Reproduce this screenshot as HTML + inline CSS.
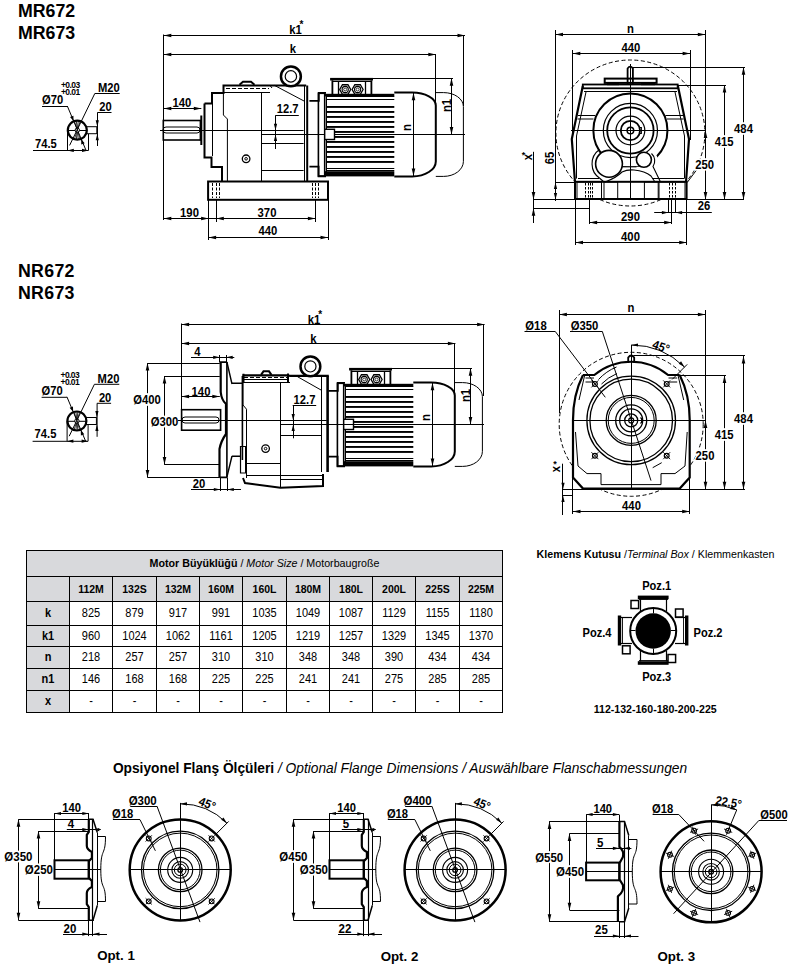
<!DOCTYPE html><html><head><meta charset="utf-8"><style>
html,body{margin:0;padding:0;background:#fff;width:802px;height:976px;overflow:hidden;}
svg{position:absolute;left:0;top:0;}
text{font-family:"Liberation Sans", sans-serif;fill:#000;stroke:none;}
</style></head><body>
<svg width="802" height="976" viewBox="0 0 802 976">
<g stroke="#000" fill="none" stroke-linecap="butt">
<text x="18" y="17" font-size="17.75" font-weight="bold" text-anchor="start">MR672</text>
<text x="18" y="38.5" font-size="17.75" font-weight="bold" text-anchor="start">MR673</text>
<circle cx="77.3" cy="130.2" r="9.5" stroke-width="2.2" fill="none"/>
<line x1="67.8" y1="130.5" x2="86.8" y2="130.5" stroke-width="1"/>
<line x1="74.52" y1="121.64" x2="80.08" y2="138.76" stroke-width="0.8"/>
<line x1="76.36" y1="121.25" x2="78.24" y2="139.15" stroke-width="0.8"/>
<line x1="78.24" y1="121.25" x2="76.36" y2="139.15" stroke-width="0.8"/>
<line x1="80.08" y1="121.64" x2="74.52" y2="138.76" stroke-width="0.8"/>
<circle cx="77.3" cy="130.2" r="2.2" stroke-width="1" fill="#fff"/>
<rect x="86.8" y="126.69999999999999" width="10" height="7" stroke-width="1" fill="none"/>
<text x="61" y="87.5" font-size="8.5" font-weight="bold" text-anchor="start" letter-spacing="-0.6">+0.03</text>
<text x="61" y="94.5" font-size="8.5" font-weight="bold" text-anchor="start" letter-spacing="-0.6">+0.01</text>
<text x="42" y="104.2" font-size="11.2" font-weight="bold" text-anchor="start" transform="matrix(1 0 0 1.1 0 -10.420)">Ø70</text>
<line x1="42" y1="106.5" x2="67.3" y2="106.5" stroke-width="1"/>
<line x1="67.3" y1="106" x2="86" y2="150.3" stroke-width="1"/>
<path d="M73.50,121.00 L70.04,116.97 L73.41,115.69 Z" fill="#000" stroke="none"/>
<path d="M81.20,139.30 L84.66,143.33 L81.29,144.61 Z" fill="#000" stroke="none"/>
<text x="98" y="92.3" font-size="11.2" font-weight="bold" text-anchor="start" transform="matrix(1 0 0 1.1 0 -9.230)">M20</text>
<line x1="94.8" y1="93.5" x2="119.7" y2="93.5" stroke-width="1"/>
<line x1="94.8" y1="93.5" x2="69.6" y2="145.4" stroke-width="1"/>
<text x="99.3" y="111" font-size="11.2" font-weight="bold" text-anchor="start" transform="matrix(1 0 0 1.1 0 -11.100)">20</text>
<line x1="97.3" y1="112.5" x2="111.5" y2="112.5" stroke-width="1"/>
<line x1="97.5" y1="112.7" x2="97.5" y2="146" stroke-width="1"/>
<path d="M97.30,126.70 L95.70,120.20 L98.90,120.20 Z" fill="#000" stroke="none"/>
<path d="M97.30,133.70 L98.90,140.20 L95.70,140.20 Z" fill="#000" stroke="none"/>
<text x="35" y="147.6" font-size="11.2" font-weight="bold" text-anchor="start" transform="matrix(1 0 0 1.1 0 -14.760)">74.5</text>
<line x1="33" y1="150.5" x2="88.5" y2="150.5" stroke-width="1"/>
<line x1="67.5" y1="130" x2="67.5" y2="150.4" stroke-width="1"/>
<line x1="88.5" y1="134" x2="88.5" y2="150.4" stroke-width="1"/>
<path d="M67.30,150.40 L73.80,148.80 L73.80,152.00 Z" fill="#000" stroke="none"/>
<path d="M88.50,150.40 L82.00,152.00 L82.00,148.80 Z" fill="#000" stroke="none"/>
<text x="295.5" y="34.2" font-size="11.3" font-weight="bold" text-anchor="middle" transform="matrix(1 0 0 1.1 0 -3.420)">k1</text>
<text x="301.5" y="27.8" font-size="10" font-weight="bold" text-anchor="middle">*</text>
<line x1="163.8" y1="35.5" x2="465" y2="35.5" stroke-width="1"/>
<path d="M163.80,35.50 L171.30,33.70 L171.30,37.30 Z" fill="#000" stroke="none"/>
<path d="M465.00,35.50 L457.50,37.30 L457.50,33.70 Z" fill="#000" stroke="none"/>
<text x="293" y="53.1" font-size="11.3" font-weight="bold" text-anchor="middle" transform="matrix(1 0 0 1.1 0 -5.310)">k</text>
<line x1="163.8" y1="54.5" x2="435.8" y2="54.5" stroke-width="1"/>
<path d="M163.80,54.50 L171.30,52.70 L171.30,56.30 Z" fill="#000" stroke="none"/>
<path d="M435.80,54.50 L428.30,56.30 L428.30,52.70 Z" fill="#000" stroke="none"/>
<line x1="163.5" y1="34.5" x2="163.5" y2="220" stroke-width="1"/>
<line x1="463.5" y1="35" x2="463.5" y2="106" stroke-width="1"/>
<line x1="435.5" y1="54" x2="435.5" y2="161" stroke-width="1"/>
<text x="182" y="106.6" font-size="11.3" font-weight="bold" text-anchor="middle" transform="matrix(1 0 0 1.1 0 -10.660)">140</text>
<line x1="163.8" y1="108.5" x2="201.3" y2="108.5" stroke-width="1"/>
<path d="M163.80,108.50 L171.30,106.70 L171.30,110.30 Z" fill="#000" stroke="none"/>
<path d="M201.30,108.50 L193.80,110.30 L193.80,106.70 Z" fill="#000" stroke="none"/>
<rect x="163.3" y="120.5" width="37.5" height="19.5" stroke-width="1.6" fill="none"/>
<path d="M166,127 H197 A3,3 0 0 1 197,133 H166 A3,3 0 0 1 166,127 Z" stroke-width="1" fill="none"/>
<line x1="160" y1="130.5" x2="303.6" y2="130.5" stroke-width="1"/>
<line x1="261" y1="134.5" x2="465" y2="134.5" stroke-width="1"/>
<line x1="261" y1="143.5" x2="303.6" y2="143.5" stroke-width="1"/>
<line x1="261" y1="170.5" x2="303.6" y2="170.5" stroke-width="1"/>
<text x="287.6" y="113.5" font-size="11.2" font-weight="bold" text-anchor="middle" transform="matrix(1 0 0 1.1 0 -11.350)">12.7</text>
<line x1="275.5" y1="115.5" x2="298.8" y2="115.5" stroke-width="1"/>
<line x1="275.5" y1="115.3" x2="275.5" y2="149" stroke-width="1"/>
<path d="M275.50,130.30 L273.90,123.80 L277.10,123.80 Z" fill="#000" stroke="none"/>
<path d="M275.50,134.40 L277.10,140.90 L273.90,140.90 Z" fill="#000" stroke="none"/>
<path d="M201.3,115.5 V145 M204.5,103.5 V157.5 H211.5 V167 H222 V182 M204.5,103.5 H212 V93 H223.5 V85.5 H306.2 " stroke-width="2" fill="none"/>
<path d="M200.8,120 V140.5" stroke-width="2.4" fill="none"/>
<line x1="212.5" y1="104" x2="212.5" y2="156" stroke-width="1"/>
<path d="M223.4,93 V115 L227.4,119 V182" stroke-width="1" fill="none"/>
<line x1="223.4" y1="92.5" x2="270" y2="92.5" stroke-width="1"/>
<path d="M224,85.5 H270 L272,88" stroke-width="1" fill="none"/>
<path d="M239.5,84.8 L243,81.8 H251 L254.5,84.8" stroke-width="2" fill="none"/>
<line x1="226" y1="88.5" x2="269" y2="88.5" stroke-width="1" stroke-dasharray="4,2"/>
<line x1="261.5" y1="92" x2="261.5" y2="182" stroke-width="1"/>
<path d="M274.5,85.4 L304,101" stroke-width="1" fill="none"/>
<circle cx="290.9" cy="76.4" r="9.95" stroke-width="2.5" fill="#fff"/>
<circle cx="290.9" cy="76.4" r="5.7" stroke-width="1.2" fill="none"/>
<line x1="304.5" y1="85.5" x2="304.5" y2="182" stroke-width="1"/>
<line x1="307.2" y1="85.5" x2="307.2" y2="182" stroke-width="2"/>
<rect x="208.1" y="181.5" width="119.9" height="18.3" stroke-width="2" fill="none"/>
<line x1="212.5" y1="183" x2="212.5" y2="198" stroke-width="1" stroke-dasharray="3,1.5"/>
<line x1="216.5" y1="183" x2="216.5" y2="198" stroke-width="1" stroke-dasharray="3,1.5"/>
<line x1="219.5" y1="183" x2="219.5" y2="198" stroke-width="1" stroke-dasharray="3,1.5"/>
<line x1="312.5" y1="183" x2="312.5" y2="198" stroke-width="1" stroke-dasharray="3,1.5"/>
<line x1="315.5" y1="183" x2="315.5" y2="198" stroke-width="1" stroke-dasharray="3,1.5"/>
<line x1="318.5" y1="183" x2="318.5" y2="198" stroke-width="1" stroke-dasharray="3,1.5"/>
<circle cx="246.1" cy="158.8" r="3.8" stroke-width="1.3" fill="none"/>
<circle cx="246.1" cy="158.8" r="1.3" stroke-width="1" fill="none"/>
<line x1="208.5" y1="200" x2="208.5" y2="240" stroke-width="1"/>
<line x1="216.5" y1="200" x2="216.5" y2="222" stroke-width="1"/>
<line x1="315.5" y1="200" x2="315.5" y2="222" stroke-width="1"/>
<line x1="328.5" y1="200" x2="328.5" y2="240" stroke-width="1"/>
<text x="189.5" y="216.8" font-size="11.3" font-weight="bold" text-anchor="middle" transform="matrix(1 0 0 1.1 0 -21.680)">190</text>
<line x1="163.8" y1="218.5" x2="208.6" y2="218.5" stroke-width="1"/>
<path d="M163.80,218.50 L171.30,216.70 L171.30,220.30 Z" fill="#000" stroke="none"/>
<path d="M208.60,218.50 L201.10,220.30 L201.10,216.70 Z" fill="#000" stroke="none"/>
<text x="267" y="216.8" font-size="11.3" font-weight="bold" text-anchor="middle" transform="matrix(1 0 0 1.1 0 -21.680)">370</text>
<line x1="216.3" y1="218.5" x2="315.4" y2="218.5" stroke-width="1"/>
<path d="M216.30,218.50 L223.80,216.70 L223.80,220.30 Z" fill="#000" stroke="none"/>
<path d="M315.40,218.50 L307.90,220.30 L307.90,216.70 Z" fill="#000" stroke="none"/>
<line x1="208.6" y1="218.5" x2="216.3" y2="218.5" stroke-width="1"/>
<text x="268" y="235.2" font-size="11.3" font-weight="bold" text-anchor="middle" transform="matrix(1 0 0 1.1 0 -23.520)">440</text>
<line x1="208.6" y1="237.5" x2="328" y2="237.5" stroke-width="1"/>
<path d="M208.60,237.50 L216.10,235.70 L216.10,239.30 Z" fill="#000" stroke="none"/>
<path d="M328.00,237.50 L320.50,239.30 L320.50,235.70 Z" fill="#000" stroke="none"/>
<g>
<rect x="318.4" y="93.3" width="6.3" height="82.7" stroke-width="1.6" fill="none"/>
<line x1="326.5" y1="96" x2="326.5" y2="172" stroke-width="1"/>
<path d="M309.4,100.9 H318.8 V92.9 H326" stroke-width="1.8" fill="none"/>
<path d="M309.4,166.7 H318.6 V176.3 H326" stroke-width="1.8" fill="none"/>
<rect x="324.7" y="93.8" width="69.6" height="2.6" fill="#000" stroke="none"/>
<rect x="324.7" y="171.2" width="69.6" height="5.2" fill="#000" stroke="none"/>
<line x1="326.7" y1="96.5" x2="394.3" y2="96.5" stroke-width="1"/>
<line x1="326.7" y1="99.5" x2="394.3" y2="99.5" stroke-width="1"/>
<line x1="326.7" y1="168.5" x2="394.3" y2="168.5" stroke-width="1"/>
<line x1="326.7" y1="170.5" x2="394.3" y2="170.5" stroke-width="1"/>
<rect x="326.7" y="106.00" width="67.6" height="1.9" fill="#000" stroke="none"/>
<rect x="326.7" y="111.00" width="67.6" height="1.9" fill="#000" stroke="none"/>
<rect x="326.7" y="116.00" width="67.6" height="1.9" fill="#000" stroke="none"/>
<rect x="326.7" y="121.00" width="67.6" height="1.9" fill="#000" stroke="none"/>
<rect x="326.7" y="126.00" width="67.6" height="1.9" fill="#000" stroke="none"/>
<rect x="326.7" y="131.00" width="67.6" height="1.9" fill="#000" stroke="none"/>
<rect x="326.7" y="136.00" width="67.6" height="1.9" fill="#000" stroke="none"/>
<rect x="326.7" y="141.00" width="67.6" height="1.9" fill="#000" stroke="none"/>
<rect x="326.7" y="146.00" width="67.6" height="1.9" fill="#000" stroke="none"/>
<rect x="326.7" y="151.00" width="67.6" height="1.9" fill="#000" stroke="none"/>
<rect x="326.7" y="156.00" width="67.6" height="1.9" fill="#000" stroke="none"/>
<rect x="326.7" y="161.00" width="67.6" height="1.9" fill="#000" stroke="none"/>
<rect x="324.7" y="129.3" width="9.8" height="10.2" stroke-width="1.4" fill="#fff"/>
<rect x="330.1" y="77.9" width="42.9" height="2.6" fill="#000" stroke="none"/>
<rect x="331.5" y="80.3" width="1.8" height="15" fill="#000" stroke="none"/>
<rect x="370.5" y="80.3" width="1.8" height="15" fill="#000" stroke="none"/>
<line x1="332" y1="81.5" x2="371" y2="81.5" stroke-width="1"/>
<line x1="338.5" y1="82" x2="338.5" y2="95" stroke-width="1.3"/>
<line x1="365.5" y1="82" x2="365.5" y2="95" stroke-width="1.3"/>
<polygon points="350.70,89.50 347.95,94.26 342.45,94.26 339.70,89.50 342.45,84.74 347.95,84.74" stroke-width="1.3" fill="#fff"/>
<circle cx="345.2" cy="89.5" r="3.1" stroke-width="1.1" fill="none"/>
<circle cx="345.2" cy="89.5" r="1.5" stroke-width="0.8" fill="none"/>
<polygon points="363.10,89.50 360.35,94.26 354.85,94.26 352.10,89.50 354.85,84.74 360.35,84.74" stroke-width="1.3" fill="#fff"/>
<circle cx="357.6" cy="89.5" r="3.1" stroke-width="1.1" fill="none"/>
<circle cx="357.6" cy="89.5" r="1.5" stroke-width="0.8" fill="none"/>
<line x1="373" y1="78.5" x2="453" y2="78.5" stroke-width="1"/>
<line x1="451.5" y1="78.3" x2="451.5" y2="134.4" stroke-width="1"/>
<path d="M451.50,78.30 L453.30,85.80 L449.70,85.80 Z" fill="#000" stroke="none"/>
<path d="M451.50,134.40 L449.70,126.90 L453.30,126.90 Z" fill="#000" stroke="none"/>
<g transform="rotate(-90 450.6 105.5)"><text x="450.6" y="105.5" font-size="11.3" font-weight="bold" text-anchor="middle" transform="matrix(1 0 0 1.1 0 -10.550)">n1</text></g>
<path d="M394.3,92.6 H412.2 A23.6,13 0 0 1 435.8,105.6 V161.4 A23.6,15 0 0 1 412.2,176.4 H394.3" stroke-width="2" fill="none"/>
<path d="M435.8,92.6 H443.6 A19.8,14 0 0 1 463.4,106.6 V161.4 A19.8,15 0 0 1 443.6,176.4 H435.8" stroke-width="1" fill="none"/>
<line x1="413.5" y1="92.8" x2="413.5" y2="176" stroke-width="1"/>
<path d="M413.50,92.80 L415.30,100.30 L411.70,100.30 Z" fill="#000" stroke="none"/>
<path d="M413.50,176.00 L411.70,168.50 L415.30,168.50 Z" fill="#000" stroke="none"/>
<g transform="rotate(-90 410.8 127.6)"><text x="410.8" y="127.6" font-size="11.3" font-weight="bold" text-anchor="middle" transform="matrix(1 0 0 1.1 0 -12.760)">n</text></g>
</g>
<text x="630.5" y="33" font-size="11.3" font-weight="bold" text-anchor="middle" transform="matrix(1 0 0 1.1 0 -3.300)">n</text>
<line x1="555.5" y1="34.5" x2="705.3" y2="34.5" stroke-width="1"/>
<path d="M555.50,34.50 L563.00,32.70 L563.00,36.30 Z" fill="#000" stroke="none"/>
<path d="M705.30,34.50 L697.80,36.30 L697.80,32.70 Z" fill="#000" stroke="none"/>
<line x1="555.5" y1="30" x2="555.5" y2="199.4" stroke-width="1"/>
<line x1="705.5" y1="30" x2="705.5" y2="199.4" stroke-width="1"/>
<text x="631" y="52" font-size="11.3" font-weight="bold" text-anchor="middle" transform="matrix(1 0 0 1.1 0 -5.200)">440</text>
<line x1="572.8" y1="53.5" x2="690.1" y2="53.5" stroke-width="1"/>
<path d="M572.80,53.50 L580.30,51.70 L580.30,55.30 Z" fill="#000" stroke="none"/>
<path d="M690.10,53.50 L682.60,55.30 L682.60,51.70 Z" fill="#000" stroke="none"/>
<line x1="572.5" y1="50" x2="572.5" y2="140" stroke-width="1"/>
<line x1="690.5" y1="50" x2="690.5" y2="140" stroke-width="1"/>
<ellipse cx="630.4" cy="133" rx="74.5" ry="73" stroke-width="1" stroke-dasharray="4,2.5"/>
<path d="M582.8,84.3 H677.7 L689,139 L686.6,199.4 H575 L571.8,139 Z" fill="#fff" stroke="none"/>
<path d="M582.8,86 L571.8,139 L575,182" stroke-width="2.2" fill="none"/>
<path d="M677.9,86 L689,139 L686,182" stroke-width="2.2" fill="none"/>
<path d="M586,92 L576.5,136 V178.6" stroke-width="1" fill="none"/>
<path d="M675,92 L684.5,136 V178.6" stroke-width="1" fill="none"/>
<rect x="582.8" y="84.5" width="94.9" height="3.8" stroke-width="1.8" fill="none"/>
<line x1="584" y1="91.5" x2="677" y2="91.5" stroke-width="1"/>
<rect x="604.7" y="78.6" width="51.9" height="4.3" stroke-width="2" fill="none"/>
<rect x="607" y="83" width="12" height="2.2" fill="#000" stroke="none"/>
<rect x="641" y="83" width="14" height="2.2" fill="#000" stroke="none"/>
<path d="M627.6,84.3 V68.5 Q630.2,64.8 632.9,68.5 V84.3" stroke-width="1.8" fill="none"/>
<line x1="630.5" y1="69" x2="630.5" y2="84" stroke-width="1"/>
<line x1="632.6" y1="67.5" x2="745" y2="67.5" stroke-width="1"/>
<line x1="677.7" y1="85.5" x2="726" y2="85.5" stroke-width="1"/>
<path d="M578,115.5 H595 M577.5,119 H593.5 M665.5,115.5 H683 M667,119 H683.5" stroke-width="1.2" fill="none"/>
<circle cx="630.4" cy="130.5" r="37.05" stroke-width="2" fill="none"/>
<circle cx="630.4" cy="130.5" r="27.1" stroke-width="1.2" fill="none"/>
<circle cx="630.4" cy="130.5" r="23.2" stroke-width="1.8" fill="none"/>
<circle cx="630.4" cy="130.5" r="14.4" stroke-width="1.2" fill="none"/>
<circle cx="630.4" cy="130.5" r="9.6" stroke-width="1.8" fill="none"/>
<circle cx="630.4" cy="130.5" r="3.3" stroke-width="1.5" fill="none"/>
<path d="M639.8,127.5 H641.3 V133.5 H639.8" stroke-width="1.2" fill="none"/>
<path d="M596.5,152 A17.5,17.5 0 0 0 599,178 L604,182 H640 L656,182 L652,170 A10,10 0 0 0 652.5,152 L640,166.8 H622 Z" fill="#fff" stroke="none"/>
<circle cx="609" cy="163.8" r="13.4" stroke-width="1.6" fill="#fff"/>
<path d="M599.5,149.5 A17.5,17.5 0 0 0 600,178.5 L604,182" stroke-width="1.1" fill="none"/>
<circle cx="643.9" cy="159.8" r="7.5" stroke-width="1.6" fill="#fff"/>
<path d="M651.5,153.5 A10,10 0 0 1 653,166.5 L660.5,182" stroke-width="1.1" fill="none"/>
<path d="M622.2,166.8 H636.5" stroke-width="1.1" fill="none"/>
<path d="M605,182 Q616,178 622,172 Q627,169.5 634,170 Q645,171 651,176 L655,182" stroke-width="1.1" fill="none"/>
<rect x="575" y="181.8" width="111.6" height="17.2" stroke-width="2" fill="none"/>
<rect x="577" y="182" width="24.5" height="16.5" stroke-width="1" fill="none"/>
<rect x="604" y="182" width="13.7" height="16.5" stroke-width="1" fill="none"/>
<rect x="644.4" y="182" width="13.8" height="16.5" stroke-width="1" fill="none"/>
<rect x="659" y="182" width="26" height="16.5" stroke-width="1" fill="none"/>
<line x1="585.5" y1="183" x2="585.5" y2="198" stroke-width="1" stroke-dasharray="2.5,1.5"/>
<line x1="588.5" y1="183" x2="588.5" y2="198" stroke-width="1" stroke-dasharray="2.5,1.5"/>
<line x1="590.5" y1="183" x2="590.5" y2="198" stroke-width="1" stroke-dasharray="2.5,1.5"/>
<line x1="592.5" y1="183" x2="592.5" y2="198" stroke-width="1" stroke-dasharray="2.5,1.5"/>
<line x1="669.5" y1="183" x2="669.5" y2="198" stroke-width="1" stroke-dasharray="2.5,1.5"/>
<line x1="672.5" y1="183" x2="672.5" y2="198" stroke-width="1" stroke-dasharray="2.5,1.5"/>
<line x1="675.5" y1="183" x2="675.5" y2="198" stroke-width="1" stroke-dasharray="2.5,1.5"/>
<line x1="578" y1="178.5" x2="599" y2="178.5" stroke-width="1"/>
<line x1="652" y1="178.5" x2="684" y2="178.5" stroke-width="1"/>
<line x1="630.5" y1="64" x2="630.5" y2="199" stroke-width="1"/>
<line x1="571" y1="130.5" x2="705" y2="130.5" stroke-width="1"/>
<line x1="533.5" y1="199.5" x2="744" y2="199.5" stroke-width="1"/>
<line x1="533.5" y1="208.5" x2="589.6" y2="208.5" stroke-width="1"/>
<line x1="555.1" y1="182.5" x2="575" y2="182.5" stroke-width="1"/>
<line x1="555.5" y1="182.4" x2="555.5" y2="199.4" stroke-width="1"/>
<path d="M555.50,182.40 L557.10,188.90 L553.90,188.90 Z" fill="#000" stroke="none"/>
<path d="M555.50,199.40 L553.90,192.90 L557.10,192.90 Z" fill="#000" stroke="none"/>
<line x1="555.5" y1="150" x2="555.5" y2="201" stroke-width="1"/>
<line x1="533.5" y1="151.8" x2="533.5" y2="223" stroke-width="1"/>
<path d="M533.50,199.40 L531.70,191.90 L535.30,191.90 Z" fill="#000" stroke="none"/>
<path d="M533.50,208.30 L535.30,215.80 L531.70,215.80 Z" fill="#000" stroke="none"/>
<g transform="rotate(-90 553.7 158)"><text x="553.7" y="158" font-size="11.3" font-weight="bold" text-anchor="middle" transform="matrix(1 0 0 1.1 0 -15.800)">65</text></g>
<g transform="rotate(-90 531.8 157)"><text x="531.8" y="157" font-size="11.3" font-weight="bold" text-anchor="middle" transform="matrix(1 0 0 1.1 0 -15.700)">x</text></g>
<text x="523.5" y="157.5" font-size="9" font-weight="bold" text-anchor="middle">*</text>
<line x1="743.5" y1="67.3" x2="743.5" y2="199.4" stroke-width="1"/>
<path d="M743.50,67.30 L745.30,74.80 L741.70,74.80 Z" fill="#000" stroke="none"/>
<path d="M743.50,199.40 L741.70,191.90 L745.30,191.90 Z" fill="#000" stroke="none"/>
<text x="743.5" y="133" font-size="11.3" font-weight="bold" text-anchor="middle" style="paint-order:stroke;stroke:#fff;stroke-width:3px" transform="matrix(1 0 0 1.1 0 -13.300)">484</text>
<line x1="724.5" y1="85.1" x2="724.5" y2="199.4" stroke-width="1"/>
<path d="M724.50,85.10 L726.30,92.60 L722.70,92.60 Z" fill="#000" stroke="none"/>
<path d="M724.50,199.40 L722.70,191.90 L726.30,191.90 Z" fill="#000" stroke="none"/>
<text x="724.2" y="146" font-size="11.3" font-weight="bold" text-anchor="middle" style="paint-order:stroke;stroke:#fff;stroke-width:3px" transform="matrix(1 0 0 1.1 0 -14.600)">415</text>
<line x1="705.5" y1="130.5" x2="705.5" y2="199.4" stroke-width="1"/>
<path d="M705.50,130.50 L707.30,138.00 L703.70,138.00 Z" fill="#000" stroke="none"/>
<path d="M705.50,199.40 L703.70,191.90 L707.30,191.90 Z" fill="#000" stroke="none"/>
<text x="704.7" y="169.2" font-size="11.3" font-weight="bold" text-anchor="middle" style="paint-order:stroke;stroke:#fff;stroke-width:3px" transform="matrix(1 0 0 1.1 0 -16.920)">250</text>
<line x1="696" y1="170.7" x2="687.1" y2="182.6" stroke-width="1"/>
<line x1="668.5" y1="199" x2="668.5" y2="212.6" stroke-width="1"/>
<line x1="675.5" y1="199" x2="675.5" y2="212.6" stroke-width="1"/>
<line x1="654.2" y1="212.5" x2="711.8" y2="212.5" stroke-width="1"/>
<path d="M668.40,212.60 L661.90,214.20 L661.90,211.00 Z" fill="#000" stroke="none"/>
<path d="M675.60,212.60 L682.10,211.00 L682.10,214.20 Z" fill="#000" stroke="none"/>
<text x="704" y="210.3" font-size="11.3" font-weight="bold" text-anchor="middle" transform="matrix(1 0 0 1.1 0 -21.030)">26</text>
<line x1="589.5" y1="199" x2="589.5" y2="224" stroke-width="1"/>
<line x1="671.5" y1="199" x2="671.5" y2="224" stroke-width="1"/>
<text x="630.5" y="220.6" font-size="11.3" font-weight="bold" text-anchor="middle" transform="matrix(1 0 0 1.1 0 -22.060)">290</text>
<line x1="589.6" y1="222.5" x2="671.7" y2="222.5" stroke-width="1"/>
<path d="M589.60,222.50 L597.10,220.70 L597.10,224.30 Z" fill="#000" stroke="none"/>
<path d="M671.70,222.50 L664.20,224.30 L664.20,220.70 Z" fill="#000" stroke="none"/>
<line x1="575.5" y1="199" x2="575.5" y2="245" stroke-width="1"/>
<line x1="686.5" y1="199" x2="686.5" y2="245" stroke-width="1"/>
<text x="630.5" y="241.3" font-size="11.3" font-weight="bold" text-anchor="middle" transform="matrix(1 0 0 1.1 0 -24.130)">400</text>
<line x1="575.5" y1="242.5" x2="686.7" y2="242.5" stroke-width="1"/>
<path d="M575.50,242.50 L583.00,240.70 L583.00,244.30 Z" fill="#000" stroke="none"/>
<path d="M686.70,242.50 L679.20,244.30 L679.20,240.70 Z" fill="#000" stroke="none"/>
<text x="18" y="277" font-size="17.75" font-weight="bold" text-anchor="start" letter-spacing="0.3">NR672</text>
<text x="18" y="299" font-size="17.75" font-weight="bold" text-anchor="start" letter-spacing="0.3">NR673</text>
<g transform="translate(-0.4,290.8)">
<circle cx="77.3" cy="130.2" r="9.5" stroke-width="2.2" fill="none"/>
<line x1="67.8" y1="130.5" x2="86.8" y2="130.5" stroke-width="1"/>
<line x1="74.52" y1="121.64" x2="80.08" y2="138.76" stroke-width="0.8"/>
<line x1="76.36" y1="121.25" x2="78.24" y2="139.15" stroke-width="0.8"/>
<line x1="78.24" y1="121.25" x2="76.36" y2="139.15" stroke-width="0.8"/>
<line x1="80.08" y1="121.64" x2="74.52" y2="138.76" stroke-width="0.8"/>
<circle cx="77.3" cy="130.2" r="2.2" stroke-width="1" fill="#fff"/>
<rect x="86.8" y="126.69999999999999" width="10" height="7" stroke-width="1" fill="none"/>
<text x="61" y="87.5" font-size="8.5" font-weight="bold" text-anchor="start" letter-spacing="-0.6">+0.03</text>
<text x="61" y="94.5" font-size="8.5" font-weight="bold" text-anchor="start" letter-spacing="-0.6">+0.01</text>
<text x="42" y="104.2" font-size="11.2" font-weight="bold" text-anchor="start" transform="matrix(1 0 0 1.1 0 -10.420)">Ø70</text>
<line x1="42" y1="106.5" x2="67.3" y2="106.5" stroke-width="1"/>
<line x1="67.3" y1="106" x2="86" y2="150.3" stroke-width="1"/>
<path d="M73.50,121.00 L70.04,116.97 L73.41,115.69 Z" fill="#000" stroke="none"/>
<path d="M81.20,139.30 L84.66,143.33 L81.29,144.61 Z" fill="#000" stroke="none"/>
<text x="98" y="92.3" font-size="11.2" font-weight="bold" text-anchor="start" transform="matrix(1 0 0 1.1 0 -9.230)">M20</text>
<line x1="94.8" y1="93.5" x2="119.7" y2="93.5" stroke-width="1"/>
<line x1="94.8" y1="93.5" x2="69.6" y2="145.4" stroke-width="1"/>
<text x="99.3" y="111" font-size="11.2" font-weight="bold" text-anchor="start" transform="matrix(1 0 0 1.1 0 -11.100)">20</text>
<line x1="97.3" y1="112.5" x2="111.5" y2="112.5" stroke-width="1"/>
<line x1="97.5" y1="112.7" x2="97.5" y2="146" stroke-width="1"/>
<path d="M97.30,126.70 L95.70,120.20 L98.90,120.20 Z" fill="#000" stroke="none"/>
<path d="M97.30,133.70 L98.90,140.20 L95.70,140.20 Z" fill="#000" stroke="none"/>
<text x="35" y="147.6" font-size="11.2" font-weight="bold" text-anchor="start" transform="matrix(1 0 0 1.1 0 -14.760)">74.5</text>
<line x1="33" y1="150.5" x2="88.5" y2="150.5" stroke-width="1"/>
<line x1="67.5" y1="130" x2="67.5" y2="150.4" stroke-width="1"/>
<line x1="88.5" y1="134" x2="88.5" y2="150.4" stroke-width="1"/>
<path d="M67.30,150.40 L73.80,148.80 L73.80,152.00 Z" fill="#000" stroke="none"/>
<path d="M88.50,150.40 L82.00,152.00 L82.00,148.80 Z" fill="#000" stroke="none"/>
</g>
<g transform="translate(19,290)">
<rect x="318.4" y="93.3" width="6.3" height="82.7" stroke-width="1.6" fill="none"/>
<line x1="326.5" y1="96" x2="326.5" y2="172" stroke-width="1"/>
<path d="M309.4,100.9 H318.8 V92.9 H326" stroke-width="1.8" fill="none"/>
<path d="M309.4,166.7 H318.6 V176.3 H326" stroke-width="1.8" fill="none"/>
<rect x="324.7" y="93.8" width="69.6" height="2.6" fill="#000" stroke="none"/>
<rect x="324.7" y="171.2" width="69.6" height="5.2" fill="#000" stroke="none"/>
<line x1="326.7" y1="96.5" x2="394.3" y2="96.5" stroke-width="1"/>
<line x1="326.7" y1="99.5" x2="394.3" y2="99.5" stroke-width="1"/>
<line x1="326.7" y1="168.5" x2="394.3" y2="168.5" stroke-width="1"/>
<line x1="326.7" y1="170.5" x2="394.3" y2="170.5" stroke-width="1"/>
<rect x="326.7" y="106.00" width="67.6" height="1.9" fill="#000" stroke="none"/>
<rect x="326.7" y="111.00" width="67.6" height="1.9" fill="#000" stroke="none"/>
<rect x="326.7" y="116.00" width="67.6" height="1.9" fill="#000" stroke="none"/>
<rect x="326.7" y="121.00" width="67.6" height="1.9" fill="#000" stroke="none"/>
<rect x="326.7" y="126.00" width="67.6" height="1.9" fill="#000" stroke="none"/>
<rect x="326.7" y="131.00" width="67.6" height="1.9" fill="#000" stroke="none"/>
<rect x="326.7" y="136.00" width="67.6" height="1.9" fill="#000" stroke="none"/>
<rect x="326.7" y="141.00" width="67.6" height="1.9" fill="#000" stroke="none"/>
<rect x="326.7" y="146.00" width="67.6" height="1.9" fill="#000" stroke="none"/>
<rect x="326.7" y="151.00" width="67.6" height="1.9" fill="#000" stroke="none"/>
<rect x="326.7" y="156.00" width="67.6" height="1.9" fill="#000" stroke="none"/>
<rect x="326.7" y="161.00" width="67.6" height="1.9" fill="#000" stroke="none"/>
<rect x="324.7" y="129.3" width="9.8" height="10.2" stroke-width="1.4" fill="#fff"/>
<rect x="330.1" y="77.9" width="42.9" height="2.6" fill="#000" stroke="none"/>
<rect x="331.5" y="80.3" width="1.8" height="15" fill="#000" stroke="none"/>
<rect x="370.5" y="80.3" width="1.8" height="15" fill="#000" stroke="none"/>
<line x1="332" y1="81.5" x2="371" y2="81.5" stroke-width="1"/>
<line x1="338.5" y1="82" x2="338.5" y2="95" stroke-width="1.3"/>
<line x1="365.5" y1="82" x2="365.5" y2="95" stroke-width="1.3"/>
<polygon points="350.70,89.50 347.95,94.26 342.45,94.26 339.70,89.50 342.45,84.74 347.95,84.74" stroke-width="1.3" fill="#fff"/>
<circle cx="345.2" cy="89.5" r="3.1" stroke-width="1.1" fill="none"/>
<circle cx="345.2" cy="89.5" r="1.5" stroke-width="0.8" fill="none"/>
<polygon points="363.10,89.50 360.35,94.26 354.85,94.26 352.10,89.50 354.85,84.74 360.35,84.74" stroke-width="1.3" fill="#fff"/>
<circle cx="357.6" cy="89.5" r="3.1" stroke-width="1.1" fill="none"/>
<circle cx="357.6" cy="89.5" r="1.5" stroke-width="0.8" fill="none"/>
<line x1="373" y1="78.5" x2="453" y2="78.5" stroke-width="1"/>
<line x1="451.5" y1="78.3" x2="451.5" y2="134.4" stroke-width="1"/>
<path d="M451.50,78.30 L453.30,85.80 L449.70,85.80 Z" fill="#000" stroke="none"/>
<path d="M451.50,134.40 L449.70,126.90 L453.30,126.90 Z" fill="#000" stroke="none"/>
<g transform="rotate(-90 450.6 105.5)"><text x="450.6" y="105.5" font-size="11.3" font-weight="bold" text-anchor="middle" transform="matrix(1 0 0 1.1 0 -10.550)">n1</text></g>
<path d="M394.3,92.6 H412.2 A23.6,13 0 0 1 435.8,105.6 V161.4 A23.6,15 0 0 1 412.2,176.4 H394.3" stroke-width="2" fill="none"/>
<path d="M435.8,92.6 H443.6 A19.8,14 0 0 1 463.4,106.6 V161.4 A19.8,15 0 0 1 443.6,176.4 H435.8" stroke-width="1" fill="none"/>
<line x1="413.5" y1="92.8" x2="413.5" y2="176" stroke-width="1"/>
<path d="M413.50,92.80 L415.30,100.30 L411.70,100.30 Z" fill="#000" stroke="none"/>
<path d="M413.50,176.00 L411.70,168.50 L415.30,168.50 Z" fill="#000" stroke="none"/>
<g transform="rotate(-90 410.8 127.6)"><text x="410.8" y="127.6" font-size="11.3" font-weight="bold" text-anchor="middle" transform="matrix(1 0 0 1.1 0 -12.760)">n</text></g>
</g>
<text x="314" y="323.6" font-size="11.3" font-weight="bold" text-anchor="middle" transform="matrix(1 0 0 1.1 0 -32.360)">k1</text>
<text x="320.2" y="318.2" font-size="10" font-weight="bold" text-anchor="middle">*</text>
<line x1="181.6" y1="324.5" x2="484.6" y2="324.5" stroke-width="1"/>
<path d="M181.60,324.50 L189.10,322.70 L189.10,326.30 Z" fill="#000" stroke="none"/>
<path d="M484.60,324.50 L477.10,326.30 L477.10,322.70 Z" fill="#000" stroke="none"/>
<text x="313.3" y="343" font-size="11.3" font-weight="bold" text-anchor="middle" transform="matrix(1 0 0 1.1 0 -34.300)">k</text>
<line x1="181.6" y1="343.5" x2="455.4" y2="343.5" stroke-width="1"/>
<path d="M181.60,343.50 L189.10,341.70 L189.10,345.30 Z" fill="#000" stroke="none"/>
<path d="M455.40,343.50 L447.90,345.30 L447.90,341.70 Z" fill="#000" stroke="none"/>
<line x1="181.5" y1="323.5" x2="181.5" y2="430" stroke-width="1"/>
<line x1="483.5" y1="324" x2="483.5" y2="396" stroke-width="1"/>
<line x1="454.5" y1="344" x2="454.5" y2="451" stroke-width="1"/>
<text x="197.5" y="356" font-size="11.3" font-weight="bold" text-anchor="middle" transform="matrix(1 0 0 1.1 0 -35.600)">4</text>
<line x1="191" y1="357.5" x2="234.3" y2="357.5" stroke-width="1"/>
<path d="M219.70,357.30 L213.20,358.90 L213.20,355.70 Z" fill="#000" stroke="none"/>
<path d="M226.20,357.30 L232.70,355.70 L232.70,358.90 Z" fill="#000" stroke="none"/>
<line x1="219.5" y1="355" x2="219.5" y2="362" stroke-width="1"/>
<line x1="226.5" y1="355" x2="226.5" y2="362" stroke-width="1"/>
<line x1="147.5" y1="363.5" x2="219.8" y2="363.5" stroke-width="1"/>
<line x1="147.5" y1="477.5" x2="219.8" y2="477.5" stroke-width="1"/>
<line x1="147.5" y1="363.1" x2="147.5" y2="477.6" stroke-width="1"/>
<path d="M147.50,363.10 L149.30,370.60 L145.70,370.60 Z" fill="#000" stroke="none"/>
<path d="M147.50,477.60 L145.70,470.10 L149.30,470.10 Z" fill="#000" stroke="none"/>
<text x="147" y="404.5" font-size="11.3" font-weight="bold" text-anchor="middle" style="paint-order:stroke;stroke:#fff;stroke-width:3px" transform="matrix(1 0 0 1.1 0 -40.450)">Ø400</text>
<line x1="164.2" y1="376.5" x2="219.8" y2="376.5" stroke-width="1"/>
<line x1="164.2" y1="464.5" x2="219.8" y2="464.5" stroke-width="1"/>
<line x1="164.5" y1="376" x2="164.5" y2="464.6" stroke-width="1"/>
<path d="M164.50,376.00 L166.30,383.50 L162.70,383.50 Z" fill="#000" stroke="none"/>
<path d="M164.50,464.60 L162.70,457.10 L166.30,457.10 Z" fill="#000" stroke="none"/>
<text x="164.5" y="426" font-size="11.3" font-weight="bold" text-anchor="middle" style="paint-order:stroke;stroke:#fff;stroke-width:3px" transform="matrix(1 0 0 1.1 0 -42.600)">Ø300</text>
<text x="201" y="396" font-size="11.3" font-weight="bold" text-anchor="middle" transform="matrix(1 0 0 1.1 0 -39.600)">140</text>
<line x1="181.6" y1="396.5" x2="219.8" y2="396.5" stroke-width="1"/>
<path d="M181.60,396.50 L189.10,394.70 L189.10,398.30 Z" fill="#000" stroke="none"/>
<path d="M219.80,396.50 L212.30,398.30 L212.30,394.70 Z" fill="#000" stroke="none"/>
<rect x="181.6" y="409.7" width="39" height="20.5" stroke-width="1.6" fill="none"/>
<path d="M185,417 H216 A3,3 0 0 1 216,423 H185 A3,3 0 0 1 185,417 Z" stroke-width="1" fill="none"/>
<line x1="178" y1="420.5" x2="326.7" y2="420.5" stroke-width="1"/>
<line x1="280.5" y1="424.5" x2="484" y2="424.5" stroke-width="1"/>
<text x="199" y="488" font-size="11.3" font-weight="bold" text-anchor="middle" transform="matrix(1 0 0 1.1 0 -48.800)">20</text>
<line x1="191" y1="489.5" x2="241" y2="489.5" stroke-width="1"/>
<line x1="220.5" y1="478" x2="220.5" y2="491" stroke-width="1"/>
<line x1="227.5" y1="478" x2="227.5" y2="491" stroke-width="1"/>
<path d="M220.30,489.50 L213.80,491.10 L213.80,487.90 Z" fill="#000" stroke="none"/>
<path d="M227.30,489.50 L233.80,487.90 L233.80,491.10 Z" fill="#000" stroke="none"/>
<path d="M220.7,362 V392 Q221.5,400 226,404 V434 Q221,441 219.5,449 V477.5" stroke-width="2.2" fill="none"/>
<path d="M226.9,362 V478" stroke-width="1.6" fill="none"/>
<path d="M219.6,477.4 H227 M219.6,362.2 H227" stroke-width="1.8" fill="none"/>
<path d="M226.9,362 L232,384 M232,456 L226.9,477" stroke-width="1.4" fill="none"/>
<path d="M232,383.2 H242.4 M232,456.2 H241" stroke-width="1.4" fill="none"/>
<line x1="222.5" y1="420.5" x2="222.5" y2="420.5" stroke-width="1"/>
<path d="M242.4,376 V460" stroke-width="1.6" fill="none"/>
<path d="M242.5,375.3 H289.2 M289.2,375.9 H328.8" stroke-width="2.2" fill="none"/>
<line x1="244" y1="377.5" x2="288" y2="377.5" stroke-width="1" stroke-dasharray="4,2"/>
<line x1="244" y1="379.5" x2="288" y2="379.5" stroke-width="1"/>
<path d="M243.5,373.8 V382 M288,373.5 V382" stroke-width="2" fill="none"/>
<line x1="243" y1="382.5" x2="290" y2="382.5" stroke-width="1"/>
<path d="M243,382.4 V405 L246.5,409.2 V478" stroke-width="1" fill="none"/>
<line x1="280.5" y1="382.4" x2="280.5" y2="487.8" stroke-width="1"/>
<path d="M297.5,376.7 L321.9,390.5" stroke-width="1" fill="none"/>
<line x1="321.5" y1="376" x2="321.5" y2="472" stroke-width="1"/>
<line x1="327.6" y1="376" x2="327.6" y2="472" stroke-width="2.6"/>
<circle cx="310.4" cy="366.4" r="9.9" stroke-width="2.5" fill="#fff"/>
<circle cx="310.4" cy="366.4" r="5.6" stroke-width="1.2" fill="none"/>
<path d="M261,374.8 L263.5,371.3 H269 L271.5,374.8" stroke-width="2" fill="none"/>
<line x1="280.5" y1="435.5" x2="322" y2="435.5" stroke-width="1"/>
<line x1="246.5" y1="463.5" x2="280.5" y2="463.5" stroke-width="1"/>
<line x1="246.5" y1="475.5" x2="322" y2="475.5" stroke-width="1"/>
<line x1="280.5" y1="479.5" x2="322" y2="479.5" stroke-width="1"/>
<path d="M243,478 L245,483 L280.5,487.8 L323,486 V474" stroke-width="2" fill="none"/>
<path d="M240.5,446.5 H245.6 V473 H240.5 Z" stroke-width="1.2" fill="none"/>
<circle cx="265.6" cy="448.6" r="3.8" stroke-width="1.3" fill="none"/>
<circle cx="265.6" cy="448.6" r="1.3" stroke-width="1" fill="none"/>
<text x="304.5" y="404.3" font-size="11.2" font-weight="bold" text-anchor="middle" transform="matrix(1 0 0 1.1 0 -40.430)">12.7</text>
<line x1="292.7" y1="405.5" x2="316.2" y2="405.5" stroke-width="1"/>
<line x1="293.5" y1="405.4" x2="293.5" y2="438.3" stroke-width="1"/>
<path d="M293.20,420.50 L291.60,414.00 L294.80,414.00 Z" fill="#000" stroke="none"/>
<path d="M293.20,424.60 L294.80,431.10 L291.60,431.10 Z" fill="#000" stroke="none"/>
<text x="631" y="312.5" font-size="11.3" font-weight="bold" text-anchor="middle" transform="matrix(1 0 0 1.1 0 -31.250)">n</text>
<line x1="559.4" y1="314.5" x2="705.4" y2="314.5" stroke-width="1"/>
<path d="M559.40,314.50 L566.90,312.70 L566.90,316.30 Z" fill="#000" stroke="none"/>
<path d="M705.40,314.50 L697.90,316.30 L697.90,312.70 Z" fill="#000" stroke="none"/>
<line x1="559.5" y1="310" x2="559.5" y2="413" stroke-width="1"/>
<line x1="705.5" y1="310" x2="705.5" y2="489" stroke-width="1"/>
<text x="536" y="330" font-size="11.3" font-weight="bold" text-anchor="middle" transform="matrix(1 0 0 1.1 0 -33.000)">Ø18</text>
<line x1="524.5" y1="331.5" x2="555.2" y2="331.5" stroke-width="1"/>
<text x="584.5" y="330" font-size="11.3" font-weight="bold" text-anchor="middle" transform="matrix(1 0 0 1.1 0 -33.000)">Ø350</text>
<line x1="570" y1="331.5" x2="602.3" y2="331.5" stroke-width="1"/>
<ellipse cx="631.2" cy="424.3" rx="72" ry="72" stroke-width="1" stroke-dasharray="4,2.5"/>
<path d="M583,375 H594.3 A58,58 0 0 1 668.1,375 H679.7 Q689.7,395 689.7,420 V477.6 L679.7,488.6 H583 L573,477.6 V420 Q573,395 583,375 Z" fill="#fff" stroke="none"/>
<path d="M583,375 H594.3 A58,58 0 0 1 668.1,375 H679.7 M583,375 Q573,395 573,420 V477.6 L583,488.6 H679.7 L689.7,477.6 V420 Q689.7,395 679.7,375" stroke-width="2.2" fill="none"/>
<path d="M585.5,378 H594 M585.5,382 H594 M677.2,378 H668.5 M677.2,382 H668.5" stroke-width="1" fill="none"/>
<path d="M584.5,376 L579,400 M678.2,376 L683.7,400" stroke-width="1" fill="none"/>
<path d="M598.5,379.5 A50,50 0 0 1 616.5,367 M601.5,384 A47,47 0 0 1 617,373.5" stroke-width="1" fill="none"/>
<path d="M575.5,432 L578,466 L587,473.6 H601 V484.6 H661 V473.6 H675 L685,466 L687.2,432" stroke-width="1" fill="none"/>
<path d="M628.2,363 V357.5 Q631.2,353.5 634.2,357.5 V363" stroke-width="1.8" fill="none"/>
<line x1="555.2" y1="331.4" x2="605.3" y2="397.3" stroke-width="1"/>
<line x1="602.3" y1="331.4" x2="651" y2="480.6" stroke-width="1"/>
<circle cx="631.2" cy="420.4" r="44.3" stroke-width="1.3" fill="none"/>
<circle cx="631.2" cy="420.4" r="41.3" stroke-width="1.3" fill="none"/>
<circle cx="631.2" cy="420.4" r="25" stroke-width="1.3" fill="none"/>
<circle cx="631.2" cy="420.4" r="23" stroke-width="1" fill="none"/>
<circle cx="631.2" cy="420.4" r="15.5" stroke-width="1.3" fill="none"/>
<circle cx="631.2" cy="420.4" r="11.5" stroke-width="1.3" fill="none"/>
<circle cx="631.2" cy="420.4" r="6.5" stroke-width="1.3" fill="none"/>
<circle cx="631.2" cy="420.4" r="2.5" stroke-width="1.2" fill="none"/>
<path d="M640,418 H641.5 V423 H640" stroke-width="1" fill="none"/>
<circle cx="594.9" cy="383.9" r="2.4" stroke-width="1.2" fill="none"/>
<line x1="591.4" y1="380.4" x2="598.4" y2="387.4" stroke-width="0.9"/>
<line x1="591.4" y1="387.4" x2="598.4" y2="380.4" stroke-width="0.9"/>
<circle cx="666.7" cy="383.9" r="2.4" stroke-width="1.2" fill="none"/>
<line x1="663.2" y1="380.4" x2="670.2" y2="387.4" stroke-width="0.9"/>
<line x1="663.2" y1="387.4" x2="670.2" y2="380.4" stroke-width="0.9"/>
<circle cx="594.9" cy="455.7" r="2.4" stroke-width="1.2" fill="none"/>
<line x1="591.4" y1="452.2" x2="598.4" y2="459.2" stroke-width="0.9"/>
<line x1="591.4" y1="459.2" x2="598.4" y2="452.2" stroke-width="0.9"/>
<circle cx="666.7" cy="455.7" r="2.4" stroke-width="1.2" fill="none"/>
<line x1="663.2" y1="452.2" x2="670.2" y2="459.2" stroke-width="0.9"/>
<line x1="663.2" y1="459.2" x2="670.2" y2="452.2" stroke-width="0.9"/>
<path d="M661.7,462.7 L652.7,467.7" stroke-width="1" fill="none"/>
<line x1="573" y1="420.5" x2="705.6" y2="420.5" stroke-width="1"/>
<line x1="631.5" y1="345" x2="631.5" y2="489" stroke-width="1"/>
<path d="M631.2,345.0 A75.4,75.4 0 0 1 684.50,367.10" stroke-width="1"/>
<path d="M631.50,345.00 L638.00,343.40 L638.00,346.60 Z" fill="#000" stroke="none"/>
<path d="M684.50,367.10 L678.77,363.64 L681.04,361.37 Z" fill="#000" stroke="none"/>
<line x1="672.2" y1="379.4" x2="687.2" y2="364.4" stroke-width="1"/>
<g transform="rotate(20 661 347)"><text x="661" y="351" font-size="11.3" font-weight="bold" text-anchor="middle" transform="matrix(1 0 0 1.1 0 -35.100)">45°</text></g>
<line x1="633.4" y1="355.5" x2="745" y2="355.5" stroke-width="1"/>
<line x1="677.7" y1="375.5" x2="726" y2="375.5" stroke-width="1"/>
<line x1="743.5" y1="355.9" x2="743.5" y2="489.3" stroke-width="1"/>
<path d="M743.50,355.90 L745.30,363.40 L741.70,363.40 Z" fill="#000" stroke="none"/>
<path d="M743.50,489.30 L741.70,481.80 L745.30,481.80 Z" fill="#000" stroke="none"/>
<text x="743.5" y="423" font-size="11.3" font-weight="bold" text-anchor="middle" style="paint-order:stroke;stroke:#fff;stroke-width:3px" transform="matrix(1 0 0 1.1 0 -42.300)">484</text>
<line x1="724.5" y1="375.5" x2="724.5" y2="489.3" stroke-width="1"/>
<path d="M724.50,375.50 L726.30,383.00 L722.70,383.00 Z" fill="#000" stroke="none"/>
<path d="M724.50,489.30 L722.70,481.80 L726.30,481.80 Z" fill="#000" stroke="none"/>
<text x="724.2" y="439" font-size="11.3" font-weight="bold" text-anchor="middle" style="paint-order:stroke;stroke:#fff;stroke-width:3px" transform="matrix(1 0 0 1.1 0 -43.900)">415</text>
<line x1="705.5" y1="420.4" x2="705.5" y2="489.3" stroke-width="1"/>
<path d="M705.50,420.40 L707.30,427.90 L703.70,427.90 Z" fill="#000" stroke="none"/>
<path d="M705.50,489.30 L703.70,481.80 L707.30,481.80 Z" fill="#000" stroke="none"/>
<text x="705" y="460" font-size="11.3" font-weight="bold" text-anchor="middle" style="paint-order:stroke;stroke:#fff;stroke-width:3px" transform="matrix(1 0 0 1.1 0 -46.000)">250</text>
<line x1="563" y1="489.5" x2="745" y2="489.5" stroke-width="1"/>
<line x1="563" y1="495.5" x2="573" y2="495.5" stroke-width="1"/>
<line x1="562.5" y1="463.7" x2="562.5" y2="515" stroke-width="1"/>
<path d="M563.00,489.30 L561.40,482.80 L564.60,482.80 Z" fill="#000" stroke="none"/>
<path d="M563.00,495.50 L564.60,502.00 L561.40,502.00 Z" fill="#000" stroke="none"/>
<g transform="rotate(-90 560.5 469)"><text x="560.5" y="469" font-size="11.3" font-weight="bold" text-anchor="middle" transform="matrix(1 0 0 1.1 0 -46.900)">x</text></g>
<text x="555" y="467" font-size="9" font-weight="bold" text-anchor="middle">*</text>
<line x1="572.5" y1="478" x2="572.5" y2="514" stroke-width="1"/>
<line x1="689.5" y1="478" x2="689.5" y2="514" stroke-width="1"/>
<text x="631.5" y="510" font-size="11.3" font-weight="bold" text-anchor="middle" transform="matrix(1 0 0 1.1 0 -51.000)">440</text>
<line x1="573" y1="511.5" x2="689.7" y2="511.5" stroke-width="1"/>
<path d="M573.00,511.50 L580.50,509.70 L580.50,513.30 Z" fill="#000" stroke="none"/>
<path d="M689.70,511.50 L682.20,513.30 L682.20,509.70 Z" fill="#000" stroke="none"/>
<rect x="26.5" y="550.5" width="476" height="51" fill="#d8d9dc" stroke="none"/>
<rect x="26.5" y="601.5" width="43" height="111" fill="#d8d9dc" stroke="none"/>
<line x1="26" y1="550.5" x2="503" y2="550.5" stroke-width="1"/>
<line x1="26" y1="576.5" x2="503" y2="576.5" stroke-width="1"/>
<line x1="26" y1="601.5" x2="503" y2="601.5" stroke-width="1"/>
<line x1="26" y1="625.5" x2="503" y2="625.5" stroke-width="1"/>
<line x1="26" y1="646.5" x2="503" y2="646.5" stroke-width="1"/>
<line x1="26" y1="668.5" x2="503" y2="668.5" stroke-width="1"/>
<line x1="26" y1="690.5" x2="503" y2="690.5" stroke-width="1"/>
<line x1="26" y1="712.5" x2="503" y2="712.5" stroke-width="1"/>
<line x1="26.5" y1="550" x2="26.5" y2="713" stroke-width="1"/>
<line x1="502.5" y1="550" x2="502.5" y2="713" stroke-width="1"/>
<line x1="69.5" y1="576.5" x2="69.5" y2="712.5" stroke-width="1"/>
<line x1="112.5" y1="576.5" x2="112.5" y2="712.5" stroke-width="1"/>
<line x1="156.5" y1="576.5" x2="156.5" y2="712.5" stroke-width="1"/>
<line x1="199.5" y1="576.5" x2="199.5" y2="712.5" stroke-width="1"/>
<line x1="242.5" y1="576.5" x2="242.5" y2="712.5" stroke-width="1"/>
<line x1="286.5" y1="576.5" x2="286.5" y2="712.5" stroke-width="1"/>
<line x1="329.5" y1="576.5" x2="329.5" y2="712.5" stroke-width="1"/>
<line x1="372.5" y1="576.5" x2="372.5" y2="712.5" stroke-width="1"/>
<line x1="415.5" y1="576.5" x2="415.5" y2="712.5" stroke-width="1"/>
<line x1="459.5" y1="576.5" x2="459.5" y2="712.5" stroke-width="1"/>
<text x="264.5" y="567" font-size="10.7" text-anchor="middle"><tspan font-weight="bold">Motor Büyüklüğü</tspan> / <tspan font-style="italic">Motor Size</tspan> / Motorbaugroße</text>
<text x="91.0" y="593" font-size="10.5" font-weight="bold" text-anchor="middle" transform="matrix(1 0 0 1.1 0 -59.300)">112M</text>
<text x="134.5" y="593" font-size="10.5" font-weight="bold" text-anchor="middle" transform="matrix(1 0 0 1.1 0 -59.300)">132S</text>
<text x="178.0" y="593" font-size="10.5" font-weight="bold" text-anchor="middle" transform="matrix(1 0 0 1.1 0 -59.300)">132M</text>
<text x="221.0" y="593" font-size="10.5" font-weight="bold" text-anchor="middle" transform="matrix(1 0 0 1.1 0 -59.300)">160M</text>
<text x="264.5" y="593" font-size="10.5" font-weight="bold" text-anchor="middle" transform="matrix(1 0 0 1.1 0 -59.300)">160L</text>
<text x="308.0" y="593" font-size="10.5" font-weight="bold" text-anchor="middle" transform="matrix(1 0 0 1.1 0 -59.300)">180M</text>
<text x="351.0" y="593" font-size="10.5" font-weight="bold" text-anchor="middle" transform="matrix(1 0 0 1.1 0 -59.300)">180L</text>
<text x="394.0" y="593" font-size="10.5" font-weight="bold" text-anchor="middle" transform="matrix(1 0 0 1.1 0 -59.300)">200L</text>
<text x="437.5" y="593" font-size="10.5" font-weight="bold" text-anchor="middle" transform="matrix(1 0 0 1.1 0 -59.300)">225S</text>
<text x="481.0" y="593" font-size="10.5" font-weight="bold" text-anchor="middle" transform="matrix(1 0 0 1.1 0 -59.300)">225M</text>
<text x="48" y="617.1" font-size="11" font-weight="bold" text-anchor="middle" transform="matrix(1 0 0 1.1 0 -61.710)">k</text>
<text x="91.0" y="617.1" font-size="11" font-weight="normal" text-anchor="middle" transform="matrix(1 0 0 1.1 0 -61.710)">825</text>
<text x="134.5" y="617.1" font-size="11" font-weight="normal" text-anchor="middle" transform="matrix(1 0 0 1.1 0 -61.710)">879</text>
<text x="178.0" y="617.1" font-size="11" font-weight="normal" text-anchor="middle" transform="matrix(1 0 0 1.1 0 -61.710)">917</text>
<text x="221.0" y="617.1" font-size="11" font-weight="normal" text-anchor="middle" transform="matrix(1 0 0 1.1 0 -61.710)">991</text>
<text x="264.5" y="617.1" font-size="11" font-weight="normal" text-anchor="middle" transform="matrix(1 0 0 1.1 0 -61.710)">1035</text>
<text x="308.0" y="617.1" font-size="11" font-weight="normal" text-anchor="middle" transform="matrix(1 0 0 1.1 0 -61.710)">1049</text>
<text x="351.0" y="617.1" font-size="11" font-weight="normal" text-anchor="middle" transform="matrix(1 0 0 1.1 0 -61.710)">1087</text>
<text x="394.0" y="617.1" font-size="11" font-weight="normal" text-anchor="middle" transform="matrix(1 0 0 1.1 0 -61.710)">1129</text>
<text x="437.5" y="617.1" font-size="11" font-weight="normal" text-anchor="middle" transform="matrix(1 0 0 1.1 0 -61.710)">1155</text>
<text x="481.0" y="617.1" font-size="11" font-weight="normal" text-anchor="middle" transform="matrix(1 0 0 1.1 0 -61.710)">1180</text>
<text x="48" y="639.85" font-size="11" font-weight="bold" text-anchor="middle" transform="matrix(1 0 0 1.1 0 -63.985)">k1</text>
<text x="91.0" y="639.85" font-size="11" font-weight="normal" text-anchor="middle" transform="matrix(1 0 0 1.1 0 -63.985)">960</text>
<text x="134.5" y="639.85" font-size="11" font-weight="normal" text-anchor="middle" transform="matrix(1 0 0 1.1 0 -63.985)">1024</text>
<text x="178.0" y="639.85" font-size="11" font-weight="normal" text-anchor="middle" transform="matrix(1 0 0 1.1 0 -63.985)">1062</text>
<text x="221.0" y="639.85" font-size="11" font-weight="normal" text-anchor="middle" transform="matrix(1 0 0 1.1 0 -63.985)">1161</text>
<text x="264.5" y="639.85" font-size="11" font-weight="normal" text-anchor="middle" transform="matrix(1 0 0 1.1 0 -63.985)">1205</text>
<text x="308.0" y="639.85" font-size="11" font-weight="normal" text-anchor="middle" transform="matrix(1 0 0 1.1 0 -63.985)">1219</text>
<text x="351.0" y="639.85" font-size="11" font-weight="normal" text-anchor="middle" transform="matrix(1 0 0 1.1 0 -63.985)">1257</text>
<text x="394.0" y="639.85" font-size="11" font-weight="normal" text-anchor="middle" transform="matrix(1 0 0 1.1 0 -63.985)">1329</text>
<text x="437.5" y="639.85" font-size="11" font-weight="normal" text-anchor="middle" transform="matrix(1 0 0 1.1 0 -63.985)">1345</text>
<text x="481.0" y="639.85" font-size="11" font-weight="normal" text-anchor="middle" transform="matrix(1 0 0 1.1 0 -63.985)">1370</text>
<text x="48" y="661.35" font-size="11" font-weight="bold" text-anchor="middle" transform="matrix(1 0 0 1.1 0 -66.135)">n</text>
<text x="91.0" y="661.35" font-size="11" font-weight="normal" text-anchor="middle" transform="matrix(1 0 0 1.1 0 -66.135)">218</text>
<text x="134.5" y="661.35" font-size="11" font-weight="normal" text-anchor="middle" transform="matrix(1 0 0 1.1 0 -66.135)">257</text>
<text x="178.0" y="661.35" font-size="11" font-weight="normal" text-anchor="middle" transform="matrix(1 0 0 1.1 0 -66.135)">257</text>
<text x="221.0" y="661.35" font-size="11" font-weight="normal" text-anchor="middle" transform="matrix(1 0 0 1.1 0 -66.135)">310</text>
<text x="264.5" y="661.35" font-size="11" font-weight="normal" text-anchor="middle" transform="matrix(1 0 0 1.1 0 -66.135)">310</text>
<text x="308.0" y="661.35" font-size="11" font-weight="normal" text-anchor="middle" transform="matrix(1 0 0 1.1 0 -66.135)">348</text>
<text x="351.0" y="661.35" font-size="11" font-weight="normal" text-anchor="middle" transform="matrix(1 0 0 1.1 0 -66.135)">348</text>
<text x="394.0" y="661.35" font-size="11" font-weight="normal" text-anchor="middle" transform="matrix(1 0 0 1.1 0 -66.135)">390</text>
<text x="437.5" y="661.35" font-size="11" font-weight="normal" text-anchor="middle" transform="matrix(1 0 0 1.1 0 -66.135)">434</text>
<text x="481.0" y="661.35" font-size="11" font-weight="normal" text-anchor="middle" transform="matrix(1 0 0 1.1 0 -66.135)">434</text>
<text x="48" y="683.1" font-size="11" font-weight="bold" text-anchor="middle" transform="matrix(1 0 0 1.1 0 -68.310)">n1</text>
<text x="91.0" y="683.1" font-size="11" font-weight="normal" text-anchor="middle" transform="matrix(1 0 0 1.1 0 -68.310)">146</text>
<text x="134.5" y="683.1" font-size="11" font-weight="normal" text-anchor="middle" transform="matrix(1 0 0 1.1 0 -68.310)">168</text>
<text x="178.0" y="683.1" font-size="11" font-weight="normal" text-anchor="middle" transform="matrix(1 0 0 1.1 0 -68.310)">168</text>
<text x="221.0" y="683.1" font-size="11" font-weight="normal" text-anchor="middle" transform="matrix(1 0 0 1.1 0 -68.310)">225</text>
<text x="264.5" y="683.1" font-size="11" font-weight="normal" text-anchor="middle" transform="matrix(1 0 0 1.1 0 -68.310)">225</text>
<text x="308.0" y="683.1" font-size="11" font-weight="normal" text-anchor="middle" transform="matrix(1 0 0 1.1 0 -68.310)">241</text>
<text x="351.0" y="683.1" font-size="11" font-weight="normal" text-anchor="middle" transform="matrix(1 0 0 1.1 0 -68.310)">241</text>
<text x="394.0" y="683.1" font-size="11" font-weight="normal" text-anchor="middle" transform="matrix(1 0 0 1.1 0 -68.310)">275</text>
<text x="437.5" y="683.1" font-size="11" font-weight="normal" text-anchor="middle" transform="matrix(1 0 0 1.1 0 -68.310)">285</text>
<text x="481.0" y="683.1" font-size="11" font-weight="normal" text-anchor="middle" transform="matrix(1 0 0 1.1 0 -68.310)">285</text>
<text x="48" y="705.1" font-size="11" font-weight="bold" text-anchor="middle" transform="matrix(1 0 0 1.1 0 -70.510)">x</text>
<text x="91.0" y="705.1" font-size="11" font-weight="normal" text-anchor="middle" transform="matrix(1 0 0 1.1 0 -70.510)">-</text>
<text x="134.5" y="705.1" font-size="11" font-weight="normal" text-anchor="middle" transform="matrix(1 0 0 1.1 0 -70.510)">-</text>
<text x="178.0" y="705.1" font-size="11" font-weight="normal" text-anchor="middle" transform="matrix(1 0 0 1.1 0 -70.510)">-</text>
<text x="221.0" y="705.1" font-size="11" font-weight="normal" text-anchor="middle" transform="matrix(1 0 0 1.1 0 -70.510)">-</text>
<text x="264.5" y="705.1" font-size="11" font-weight="normal" text-anchor="middle" transform="matrix(1 0 0 1.1 0 -70.510)">-</text>
<text x="308.0" y="705.1" font-size="11" font-weight="normal" text-anchor="middle" transform="matrix(1 0 0 1.1 0 -70.510)">-</text>
<text x="351.0" y="705.1" font-size="11" font-weight="normal" text-anchor="middle" transform="matrix(1 0 0 1.1 0 -70.510)">-</text>
<text x="394.0" y="705.1" font-size="11" font-weight="normal" text-anchor="middle" transform="matrix(1 0 0 1.1 0 -70.510)">-</text>
<text x="437.5" y="705.1" font-size="11" font-weight="normal" text-anchor="middle" transform="matrix(1 0 0 1.1 0 -70.510)">-</text>
<text x="481.0" y="705.1" font-size="11" font-weight="normal" text-anchor="middle" transform="matrix(1 0 0 1.1 0 -70.510)">-</text>
<text x="655.5" y="557.7" font-size="10.7" text-anchor="middle"><tspan font-weight="bold">Klemens Kutusu</tspan> /<tspan font-style="italic">Terminal Box</tspan> / Klemmenkasten</text>
<text x="656.7" y="590" font-size="11.1" font-weight="bold" text-anchor="middle" transform="matrix(1 0 0 1.1 0 -59.000)">Poz.1</text>
<text x="597" y="637" font-size="11.1" font-weight="bold" text-anchor="middle" transform="matrix(1 0 0 1.1 0 -63.700)">Poz.4</text>
<text x="708" y="637" font-size="11.1" font-weight="bold" text-anchor="middle" transform="matrix(1 0 0 1.1 0 -63.700)">Poz.2</text>
<text x="656.7" y="681" font-size="11.1" font-weight="bold" text-anchor="middle" transform="matrix(1 0 0 1.1 0 -68.100)">Poz.3</text>
<text x="655.2" y="713" font-size="10.6" font-weight="bold" text-anchor="middle" transform="matrix(1 0 0 1.1 0 -71.300)">112-132-160-180-200-225</text>
<rect x="637.8" y="595.6" width="30.8" height="3.6" fill="#000" stroke="none"/>
<rect x="637.8" y="661.2" width="30.8" height="3.6" fill="#000" stroke="none"/>
<rect x="617.8" y="615.5" width="3.4" height="30" fill="#000" stroke="none"/>
<rect x="685" y="615.5" width="3.4" height="30" fill="#000" stroke="none"/>
<line x1="640.5" y1="599" x2="640.5" y2="611" stroke-width="1.2"/>
<line x1="666.5" y1="599" x2="666.5" y2="611" stroke-width="1.2"/>
<line x1="640.5" y1="651" x2="640.5" y2="661.5" stroke-width="1.2"/>
<line x1="666.5" y1="651" x2="666.5" y2="661.5" stroke-width="1.2"/>
<line x1="621" y1="617.5" x2="632" y2="617.5" stroke-width="1.2"/>
<line x1="621" y1="643.5" x2="632" y2="643.5" stroke-width="1.2"/>
<line x1="675" y1="617.5" x2="685.5" y2="617.5" stroke-width="1.2"/>
<line x1="675" y1="643.5" x2="685.5" y2="643.5" stroke-width="1.2"/>
<line x1="622.5" y1="617" x2="622.5" y2="644" stroke-width="0.9"/>
<line x1="683.5" y1="617" x2="683.5" y2="644" stroke-width="0.9"/>
<line x1="639" y1="599.5" x2="668" y2="599.5" stroke-width="0.9"/>
<line x1="639" y1="660.5" x2="668" y2="660.5" stroke-width="0.9"/>
<rect x="631" y="600.5" width="7.6" height="8" stroke-width="1.5" fill="#fff"/>
<rect x="675.5" y="609" width="7.6" height="8" stroke-width="1.5" fill="#fff"/>
<rect x="622.5" y="645.8" width="7.6" height="8" stroke-width="1.5" fill="#fff"/>
<rect x="668" y="654.5" width="7.6" height="8" stroke-width="1.5" fill="#fff"/>
<circle cx="653.2" cy="631" r="23" stroke-width="2" fill="#fff"/>
<circle cx="653.2" cy="631" r="17.7" stroke-width="0" fill="#000" stroke="none"/>
<line x1="653.5" y1="608" x2="653.5" y2="613.3" stroke-width="1"/>
<line x1="653.5" y1="648.7" x2="653.5" y2="654" stroke-width="1"/>
<line x1="630.2" y1="630.5" x2="635.5" y2="630.5" stroke-width="1"/>
<line x1="670.9" y1="630.5" x2="676.2" y2="630.5" stroke-width="1"/>
<text x="400" y="773" font-size="13.75" text-anchor="middle"><tspan font-weight="bold">Opsiyonel Flanş Ölçüleri</tspan> <tspan font-style="italic">/ Optional Flange Dimensions / Auswählbare Flanschabmessungen</tspan></text>
<line x1="18.4" y1="819.5" x2="93.8" y2="819.5" stroke-width="1"/>
<line x1="18.4" y1="920.5" x2="93.8" y2="920.5" stroke-width="1"/>
<line x1="18.5" y1="819.3" x2="18.5" y2="920.2" stroke-width="1"/>
<path d="M18.50,819.30 L20.30,826.80 L16.70,826.80 Z" fill="#000" stroke="none"/>
<path d="M18.50,920.20 L16.70,912.70 L20.30,912.70 Z" fill="#000" stroke="none"/>
<line x1="38.4" y1="831.5" x2="88.8" y2="831.5" stroke-width="1"/>
<line x1="38.4" y1="908.5" x2="88.8" y2="908.5" stroke-width="1"/>
<line x1="38.5" y1="831.1" x2="38.5" y2="908.7" stroke-width="1"/>
<path d="M38.50,831.10 L40.30,838.60 L36.70,838.60 Z" fill="#000" stroke="none"/>
<path d="M38.50,908.70 L36.70,901.20 L40.30,901.20 Z" fill="#000" stroke="none"/>
<text x="18.4" y="861" font-size="11.5" font-weight="bold" text-anchor="middle" style="paint-order:stroke;stroke:#fff;stroke-width:3px" transform="matrix(1 0 0 1.1 0 -86.100)">Ø350</text>
<text x="38.9" y="874.5" font-size="11.5" font-weight="bold" text-anchor="middle" style="paint-order:stroke;stroke:#fff;stroke-width:3px" transform="matrix(1 0 0 1.1 0 -87.450)">Ø250</text>
<rect x="54.5" y="860.3" width="34.3" height="18.40000000000009" stroke-width="2" fill="none"/>
<line x1="54.5" y1="869.5" x2="101" y2="869.5" stroke-width="1"/>
<line x1="54.5" y1="813.1" x2="54.5" y2="860.3" stroke-width="1"/>
<line x1="88.5" y1="813.1" x2="88.5" y2="819.3" stroke-width="1"/>
<line x1="54.5" y1="813.5" x2="88.8" y2="813.5" stroke-width="1"/>
<path d="M54.50,813.50 L61.00,811.90 L61.00,815.10 Z" fill="#000" stroke="none"/>
<path d="M88.80,813.50 L82.30,815.10 L82.30,811.90 Z" fill="#000" stroke="none"/>
<text x="71.65" y="811.6" font-size="11.2" font-weight="bold" text-anchor="middle" transform="matrix(1 0 0 1.1 0 -81.160)">140</text>
<line x1="66.8" y1="829.5" x2="100.8" y2="829.5" stroke-width="1"/>
<path d="M88.80,829.60 L82.30,831.20 L82.30,828.00 Z" fill="#000" stroke="none"/>
<path d="M92.80,829.60 L99.30,828.00 L99.30,831.20 Z" fill="#000" stroke="none"/>
<text x="71" y="828.1" font-size="11.5" font-weight="bold" text-anchor="middle" transform="matrix(1 0 0 1.1 0 -82.810)">4</text>
<line x1="88.5" y1="920.2" x2="88.5" y2="936.1" stroke-width="1"/>
<line x1="92.5" y1="920.2" x2="92.5" y2="936.1" stroke-width="1"/>
<line x1="63" y1="934.5" x2="107" y2="934.5" stroke-width="1"/>
<path d="M88.80,934.10 L82.30,935.70 L82.30,932.50 Z" fill="#000" stroke="none"/>
<path d="M93.00,934.10 L99.50,932.50 L99.50,935.70 Z" fill="#000" stroke="none"/>
<text x="70" y="932.6" font-size="11.5" font-weight="bold" text-anchor="middle" transform="matrix(1 0 0 1.1 0 -93.260)">20</text>
<path d="M88.8,819.3 V831.9 L86.8,834.9 V845.7 Q86.8,849.5 91.89999999999999,851.9 V858.0 L88.8,861.3 V877.7 L91.89999999999999,881.0 V887.1 Q86.8,889.5 86.8,893.3 V904.1 L88.8,907.1 V920.2" stroke-width="2.2" fill="none"/>
<line x1="92.5" y1="819.3" x2="92.5" y2="920.2" stroke-width="1.2"/>
<path d="M88.8,819.3 H93 L97.3,832.5 M97.3,905.5 L93,920.2 H88.8" stroke-width="1.5" fill="none"/>
<line x1="97.5" y1="832.5" x2="97.5" y2="905.5" stroke-width="1"/>
<path d="M97.3,836.5 H105.5 C105.5,856.5 100.8,847.5 100.8,869.5 C100.8,891.5 105.5,881.5 105.5,901.5 H97.3" stroke-width="1" fill="none"/>
<line x1="293.4" y1="819.5" x2="368.8" y2="819.5" stroke-width="1"/>
<line x1="293.4" y1="920.5" x2="368.8" y2="920.5" stroke-width="1"/>
<line x1="293.5" y1="819.3" x2="293.5" y2="920.2" stroke-width="1"/>
<path d="M293.50,819.30 L295.30,826.80 L291.70,826.80 Z" fill="#000" stroke="none"/>
<path d="M293.50,920.20 L291.70,912.70 L295.30,912.70 Z" fill="#000" stroke="none"/>
<line x1="313.4" y1="831.5" x2="363.8" y2="831.5" stroke-width="1"/>
<line x1="313.4" y1="908.5" x2="363.8" y2="908.5" stroke-width="1"/>
<line x1="313.5" y1="831.1" x2="313.5" y2="908.7" stroke-width="1"/>
<path d="M313.50,831.10 L315.30,838.60 L311.70,838.60 Z" fill="#000" stroke="none"/>
<path d="M313.50,908.70 L311.70,901.20 L315.30,901.20 Z" fill="#000" stroke="none"/>
<text x="293.4" y="861" font-size="11.5" font-weight="bold" text-anchor="middle" style="paint-order:stroke;stroke:#fff;stroke-width:3px" transform="matrix(1 0 0 1.1 0 -86.100)">Ø450</text>
<text x="313.9" y="874.5" font-size="11.5" font-weight="bold" text-anchor="middle" style="paint-order:stroke;stroke:#fff;stroke-width:3px" transform="matrix(1 0 0 1.1 0 -87.450)">Ø350</text>
<rect x="329.5" y="860.3" width="34.30000000000001" height="18.40000000000009" stroke-width="2" fill="none"/>
<line x1="329.5" y1="869.5" x2="376" y2="869.5" stroke-width="1"/>
<line x1="329.5" y1="813.1" x2="329.5" y2="860.3" stroke-width="1"/>
<line x1="363.5" y1="813.1" x2="363.5" y2="819.3" stroke-width="1"/>
<line x1="329.5" y1="813.5" x2="363.8" y2="813.5" stroke-width="1"/>
<path d="M329.50,813.50 L336.00,811.90 L336.00,815.10 Z" fill="#000" stroke="none"/>
<path d="M363.80,813.50 L357.30,815.10 L357.30,811.90 Z" fill="#000" stroke="none"/>
<text x="346.65" y="811.6" font-size="11.2" font-weight="bold" text-anchor="middle" transform="matrix(1 0 0 1.1 0 -81.160)">140</text>
<line x1="341.8" y1="829.5" x2="375.8" y2="829.5" stroke-width="1"/>
<path d="M363.80,829.60 L357.30,831.20 L357.30,828.00 Z" fill="#000" stroke="none"/>
<path d="M367.80,829.60 L374.30,828.00 L374.30,831.20 Z" fill="#000" stroke="none"/>
<text x="346" y="828.1" font-size="11.5" font-weight="bold" text-anchor="middle" transform="matrix(1 0 0 1.1 0 -82.810)">5</text>
<line x1="363.5" y1="920.2" x2="363.5" y2="936.1" stroke-width="1"/>
<line x1="368.5" y1="920.2" x2="368.5" y2="936.1" stroke-width="1"/>
<line x1="338" y1="934.5" x2="382" y2="934.5" stroke-width="1"/>
<path d="M363.80,934.10 L357.30,935.70 L357.30,932.50 Z" fill="#000" stroke="none"/>
<path d="M368.00,934.10 L374.50,932.50 L374.50,935.70 Z" fill="#000" stroke="none"/>
<text x="345" y="932.6" font-size="11.5" font-weight="bold" text-anchor="middle" transform="matrix(1 0 0 1.1 0 -93.260)">22</text>
<path d="M363.8,819.3 V831.9 L361.8,834.9 V845.7 Q361.8,849.5 366.90000000000003,851.9 V858.0 L363.8,861.3 V877.7 L366.90000000000003,881.0 V887.1 Q361.8,889.5 361.8,893.3 V904.1 L363.8,907.1 V920.2" stroke-width="2.2" fill="none"/>
<line x1="368.5" y1="819.3" x2="368.5" y2="920.2" stroke-width="1.2"/>
<path d="M363.8,819.3 H368 L372.3,832.5 M372.3,905.5 L368,920.2 H363.8" stroke-width="1.5" fill="none"/>
<line x1="372.5" y1="832.5" x2="372.5" y2="905.5" stroke-width="1"/>
<path d="M372.3,836.5 H380.5 C380.5,856.5 375.8,847.5 375.8,869.5 C375.8,891.5 380.5,881.5 380.5,901.5 H372.3" stroke-width="1" fill="none"/>
<line x1="549.2" y1="821.5" x2="624.4" y2="821.5" stroke-width="1"/>
<line x1="549.2" y1="921.5" x2="624.4" y2="921.5" stroke-width="1"/>
<line x1="549.5" y1="821.4" x2="549.5" y2="921.8" stroke-width="1"/>
<path d="M549.50,821.40 L551.30,828.90 L547.70,828.90 Z" fill="#000" stroke="none"/>
<path d="M549.50,921.80 L547.70,914.30 L551.30,914.30 Z" fill="#000" stroke="none"/>
<line x1="569.6" y1="833.5" x2="619.4" y2="833.5" stroke-width="1"/>
<line x1="569.6" y1="910.5" x2="619.4" y2="910.5" stroke-width="1"/>
<line x1="569.5" y1="833.4" x2="569.5" y2="910.2" stroke-width="1"/>
<path d="M569.50,833.40 L571.30,840.90 L567.70,840.90 Z" fill="#000" stroke="none"/>
<path d="M569.50,910.20 L567.70,902.70 L571.30,902.70 Z" fill="#000" stroke="none"/>
<text x="549.2" y="862" font-size="11.5" font-weight="bold" text-anchor="middle" style="paint-order:stroke;stroke:#fff;stroke-width:3px" transform="matrix(1 0 0 1.1 0 -86.200)">Ø550</text>
<text x="570.1" y="876" font-size="11.5" font-weight="bold" text-anchor="middle" style="paint-order:stroke;stroke:#fff;stroke-width:3px" transform="matrix(1 0 0 1.1 0 -87.600)">Ø450</text>
<rect x="586.1" y="862.6" width="33.299999999999955" height="17.699999999999932" stroke-width="2" fill="none"/>
<line x1="586.1" y1="871.5" x2="632.5" y2="871.5" stroke-width="1"/>
<line x1="586.5" y1="815" x2="586.5" y2="862.6" stroke-width="1"/>
<line x1="619.5" y1="815" x2="619.5" y2="821.4" stroke-width="1"/>
<line x1="586.1" y1="814.5" x2="619.4" y2="814.5" stroke-width="1"/>
<path d="M586.10,814.50 L592.60,812.90 L592.60,816.10 Z" fill="#000" stroke="none"/>
<path d="M619.40,814.50 L612.90,816.10 L612.90,812.90 Z" fill="#000" stroke="none"/>
<text x="602.75" y="813.5" font-size="11.2" font-weight="bold" text-anchor="middle" transform="matrix(1 0 0 1.1 0 -81.350)">140</text>
<line x1="596" y1="848.5" x2="631.4" y2="848.5" stroke-width="1"/>
<path d="M619.40,848.30 L612.90,849.90 L612.90,846.70 Z" fill="#000" stroke="none"/>
<path d="M623.40,848.30 L629.90,846.70 L629.90,849.90 Z" fill="#000" stroke="none"/>
<text x="600.3" y="846.8" font-size="11.5" font-weight="bold" text-anchor="middle" transform="matrix(1 0 0 1.1 0 -84.680)">5</text>
<line x1="619.5" y1="921.8" x2="619.5" y2="938" stroke-width="1"/>
<line x1="624.5" y1="921.8" x2="624.5" y2="938" stroke-width="1"/>
<line x1="594" y1="936.5" x2="638.5" y2="936.5" stroke-width="1"/>
<path d="M619.40,936.00 L612.90,937.60 L612.90,934.40 Z" fill="#000" stroke="none"/>
<path d="M624.50,936.00 L631.00,934.40 L631.00,937.60 Z" fill="#000" stroke="none"/>
<text x="601.4" y="934.5" font-size="11.5" font-weight="bold" text-anchor="middle" transform="matrix(1 0 0 1.1 0 -93.450)">25</text>
<path d="M619.4,821.4 V846.95 Q624.4,850.95 622.9,856.95 L619.4,863.6 V879.3 L622.9,884.95 Q624.4,890.95 617.9,896.45 V921.8" stroke-width="2.2" fill="none"/>
<line x1="624.5" y1="821.4" x2="624.5" y2="921.8" stroke-width="1.2"/>
<path d="M619.4,821.4 H624.5 L628.8,835.5 M628.8,908 L624.5,921.8 H619.4" stroke-width="1.5" fill="none"/>
<line x1="628.5" y1="835.5" x2="628.5" y2="908" stroke-width="1"/>
<path d="M628.8,839.5 H637.0 C637.0,859.5 632.3,849.45 632.3,871.45 C632.3,893.45 637.0,884 637.0,904 H628.8" stroke-width="1" fill="none"/>
<circle cx="180.2" cy="869.9" r="50.5" stroke-width="2.5" fill="none"/>
<circle cx="180.2" cy="869.9" r="38.7" stroke-width="1.3" fill="none"/>
<circle cx="180.2" cy="869.9" r="36.8" stroke-width="1" fill="none"/>
<circle cx="180.2" cy="869.9" r="21.8" stroke-width="1.3" fill="none"/>
<circle cx="180.2" cy="869.9" r="19.8" stroke-width="1" fill="none"/>
<circle cx="180.2" cy="869.9" r="12.5" stroke-width="1.1" fill="none"/>
<circle cx="180.2" cy="869.9" r="8.3" stroke-width="1.1" fill="none"/>
<circle cx="180.2" cy="869.9" r="5.8" stroke-width="1" fill="none"/>
<circle cx="180.2" cy="869.9" r="2.3" stroke-width="1.3" fill="none"/>
<line x1="129.2" y1="869.5" x2="231.2" y2="869.5" stroke-width="1"/>
<line x1="180.5" y1="802.9" x2="180.5" y2="920.9" stroke-width="1"/>
<circle cx="211.67" cy="838.43" r="2.4" stroke-width="1.1" fill="none"/>
<line x1="208.55" y1="841.55" x2="214.78" y2="835.32" stroke-width="0.9"/>
<line x1="214.78" y1="841.55" x2="208.55" y2="835.32" stroke-width="0.9"/>
<circle cx="211.67" cy="901.37" r="2.4" stroke-width="1.1" fill="none"/>
<line x1="208.55" y1="898.25" x2="214.78" y2="904.48" stroke-width="0.9"/>
<line x1="208.55" y1="904.48" x2="214.78" y2="898.25" stroke-width="0.9"/>
<circle cx="148.73" cy="901.37" r="2.4" stroke-width="1.1" fill="none"/>
<line x1="151.85" y1="898.25" x2="145.62" y2="904.48" stroke-width="0.9"/>
<line x1="145.62" y1="898.25" x2="151.85" y2="904.48" stroke-width="0.9"/>
<circle cx="148.73" cy="838.43" r="2.4" stroke-width="1.1" fill="none"/>
<line x1="151.85" y1="841.55" x2="145.62" y2="835.32" stroke-width="0.9"/>
<line x1="151.85" y1="835.32" x2="145.62" y2="841.55" stroke-width="0.9"/>
<circle cx="455.1" cy="869.9" r="50.5" stroke-width="2.5" fill="none"/>
<circle cx="455.1" cy="869.9" r="38.7" stroke-width="1.3" fill="none"/>
<circle cx="455.1" cy="869.9" r="36.8" stroke-width="1" fill="none"/>
<circle cx="455.1" cy="869.9" r="21.8" stroke-width="1.3" fill="none"/>
<circle cx="455.1" cy="869.9" r="19.8" stroke-width="1" fill="none"/>
<circle cx="455.1" cy="869.9" r="12.5" stroke-width="1.1" fill="none"/>
<circle cx="455.1" cy="869.9" r="8.3" stroke-width="1.1" fill="none"/>
<circle cx="455.1" cy="869.9" r="5.8" stroke-width="1" fill="none"/>
<circle cx="455.1" cy="869.9" r="2.3" stroke-width="1.3" fill="none"/>
<line x1="404.1" y1="869.5" x2="506.1" y2="869.5" stroke-width="1"/>
<line x1="455.5" y1="802.9" x2="455.5" y2="920.9" stroke-width="1"/>
<circle cx="486.57" cy="838.43" r="2.4" stroke-width="1.1" fill="none"/>
<line x1="483.45" y1="841.55" x2="489.68" y2="835.32" stroke-width="0.9"/>
<line x1="489.68" y1="841.55" x2="483.45" y2="835.32" stroke-width="0.9"/>
<circle cx="486.57" cy="901.37" r="2.4" stroke-width="1.1" fill="none"/>
<line x1="483.45" y1="898.25" x2="489.68" y2="904.48" stroke-width="0.9"/>
<line x1="483.45" y1="904.48" x2="489.68" y2="898.25" stroke-width="0.9"/>
<circle cx="423.63" cy="901.37" r="2.4" stroke-width="1.1" fill="none"/>
<line x1="426.75" y1="898.25" x2="420.52" y2="904.48" stroke-width="0.9"/>
<line x1="420.52" y1="898.25" x2="426.75" y2="904.48" stroke-width="0.9"/>
<circle cx="423.63" cy="838.43" r="2.4" stroke-width="1.1" fill="none"/>
<line x1="426.75" y1="841.55" x2="420.52" y2="835.32" stroke-width="0.9"/>
<line x1="426.75" y1="835.32" x2="420.52" y2="841.55" stroke-width="0.9"/>
<circle cx="711.1" cy="871.8" r="50.5" stroke-width="2.5" fill="none"/>
<circle cx="711.1" cy="871.8" r="38.7" stroke-width="1.3" fill="none"/>
<circle cx="711.1" cy="871.8" r="36.8" stroke-width="1" fill="none"/>
<circle cx="711.1" cy="871.8" r="21.8" stroke-width="1.3" fill="none"/>
<circle cx="711.1" cy="871.8" r="19.8" stroke-width="1" fill="none"/>
<circle cx="711.1" cy="871.8" r="12.5" stroke-width="1.1" fill="none"/>
<circle cx="711.1" cy="871.8" r="8.3" stroke-width="1.1" fill="none"/>
<circle cx="711.1" cy="871.8" r="5.8" stroke-width="1" fill="none"/>
<circle cx="711.1" cy="871.8" r="2.3" stroke-width="1.3" fill="none"/>
<line x1="660.1" y1="871.5" x2="762.1" y2="871.5" stroke-width="1"/>
<line x1="711.5" y1="804.8" x2="711.5" y2="922.8" stroke-width="1"/>
<circle cx="728.13" cy="830.69" r="2.4" stroke-width="1.1" fill="none"/>
<line x1="726.45" y1="834.75" x2="729.81" y2="826.62" stroke-width="0.9"/>
<line x1="732.19" y1="832.37" x2="724.06" y2="829.00" stroke-width="0.9"/>
<circle cx="752.21" cy="854.77" r="2.4" stroke-width="1.1" fill="none"/>
<line x1="748.15" y1="856.45" x2="756.28" y2="853.09" stroke-width="0.9"/>
<line x1="753.90" y1="858.84" x2="750.53" y2="850.71" stroke-width="0.9"/>
<circle cx="752.21" cy="888.83" r="2.4" stroke-width="1.1" fill="none"/>
<line x1="748.15" y1="887.15" x2="756.28" y2="890.51" stroke-width="0.9"/>
<line x1="750.53" y1="892.89" x2="753.90" y2="884.76" stroke-width="0.9"/>
<circle cx="728.13" cy="912.91" r="2.4" stroke-width="1.1" fill="none"/>
<line x1="726.45" y1="908.85" x2="729.81" y2="916.98" stroke-width="0.9"/>
<line x1="724.06" y1="914.60" x2="732.19" y2="911.23" stroke-width="0.9"/>
<circle cx="694.07" cy="912.91" r="2.4" stroke-width="1.1" fill="none"/>
<line x1="695.75" y1="908.85" x2="692.39" y2="916.98" stroke-width="0.9"/>
<line x1="690.01" y1="911.23" x2="698.14" y2="914.60" stroke-width="0.9"/>
<circle cx="669.99" cy="888.83" r="2.4" stroke-width="1.1" fill="none"/>
<line x1="674.05" y1="887.15" x2="665.92" y2="890.51" stroke-width="0.9"/>
<line x1="668.30" y1="884.76" x2="671.67" y2="892.89" stroke-width="0.9"/>
<circle cx="669.99" cy="854.77" r="2.4" stroke-width="1.1" fill="none"/>
<line x1="674.05" y1="856.45" x2="665.92" y2="853.09" stroke-width="0.9"/>
<line x1="671.67" y1="850.71" x2="668.30" y2="858.84" stroke-width="0.9"/>
<circle cx="694.07" cy="830.69" r="2.4" stroke-width="1.1" fill="none"/>
<line x1="695.75" y1="834.75" x2="692.39" y2="826.62" stroke-width="0.9"/>
<line x1="698.14" y1="829.00" x2="690.01" y2="832.37" stroke-width="0.9"/>
<text x="142.7" y="805.3" font-size="11.5" font-weight="bold" text-anchor="middle" transform="matrix(1 0 0 1.1 0 -80.530)">Ø300</text>
<line x1="130.29999999999998" y1="806.5" x2="157.0" y2="806.5" stroke-width="1"/>
<line x1="157.0" y1="806.2" x2="200.0" y2="922.1" stroke-width="1"/>
<text x="122.6" y="818.4" font-size="11.2" font-weight="bold" text-anchor="middle" transform="matrix(1 0 0 1.1 0 -81.840)">Ø18</text>
<line x1="112.89999999999999" y1="819.5" x2="140.0" y2="819.5" stroke-width="1"/>
<line x1="140.0" y1="819.7" x2="155.39999999999998" y2="850.8" stroke-width="1"/>
<path d="M180.2,803.8 A66.1,66.1 0 0 1 226.94,823.16" stroke-width="1"/>
<path d="M180.50,803.80 L187.00,802.20 L187.00,805.40 Z" fill="#000" stroke="none"/>
<path d="M226.94,823.16 L221.21,819.70 L223.47,817.43 Z" fill="#000" stroke="none"/>
<line x1="215.89999999999998" y1="834.1999999999999" x2="228.7" y2="821.4" stroke-width="1"/>
<g transform="rotate(22 207.2 804)"><text x="207.2" y="808" font-size="11.2" font-weight="bold" text-anchor="middle" transform="matrix(1 0 0 1.1 0 -80.800)">45°</text></g>
<text x="417.6" y="805.3" font-size="11.5" font-weight="bold" text-anchor="middle" transform="matrix(1 0 0 1.1 0 -80.530)">Ø400</text>
<line x1="405.20000000000005" y1="806.5" x2="431.90000000000003" y2="806.5" stroke-width="1"/>
<line x1="431.90000000000003" y1="806.2" x2="474.90000000000003" y2="922.1" stroke-width="1"/>
<text x="397.5" y="818.4" font-size="11.2" font-weight="bold" text-anchor="middle" transform="matrix(1 0 0 1.1 0 -81.840)">Ø18</text>
<line x1="387.8" y1="819.5" x2="414.90000000000003" y2="819.5" stroke-width="1"/>
<line x1="414.90000000000003" y1="819.7" x2="430.3" y2="850.8" stroke-width="1"/>
<path d="M455.1,803.8 A66.1,66.1 0 0 1 501.84,823.16" stroke-width="1"/>
<path d="M455.40,803.80 L461.90,802.20 L461.90,805.40 Z" fill="#000" stroke="none"/>
<path d="M501.84,823.16 L496.11,819.70 L498.37,817.43 Z" fill="#000" stroke="none"/>
<line x1="490.8" y1="834.1999999999999" x2="503.6" y2="821.4" stroke-width="1"/>
<g transform="rotate(22 482.1 804)"><text x="482.1" y="808" font-size="11.2" font-weight="bold" text-anchor="middle" transform="matrix(1 0 0 1.1 0 -80.800)">45°</text></g>
<text x="662.7" y="813.3" font-size="11.2" font-weight="bold" text-anchor="middle" transform="matrix(1 0 0 1.1 0 -81.330)">Ø18</text>
<line x1="652.6" y1="814.5" x2="678.8" y2="814.5" stroke-width="1"/>
<line x1="678.8" y1="814.5" x2="704.1" y2="841.3" stroke-width="1"/>
<text x="774" y="819.4" font-size="11.2" font-weight="bold" text-anchor="middle" transform="matrix(1 0 0 1.1 0 -81.940)">Ø500</text>
<line x1="759" y1="820.5" x2="787" y2="820.5" stroke-width="1"/>
<line x1="759" y1="820.3" x2="673.6" y2="913.7" stroke-width="1"/>
<path d="M711.1,804.8 A67,67 0 0 1 736.74,809.90" stroke-width="1"/>
<path d="M711.40,804.80 L717.90,803.20 L717.90,806.40 Z" fill="#000" stroke="none"/>
<path d="M736.74,809.90 L730.12,808.89 L731.35,805.93 Z" fill="#000" stroke="none"/>
<line x1="727.9388" y1="831.1483999999999" x2="736.7409" y2="809.8987" stroke-width="1"/>
<g transform="rotate(10 728.5 803)"><text x="728.5" y="806.5" font-size="11.2" font-weight="bold" text-anchor="middle" transform="matrix(1 0 0 1.1 0 -80.650)">22.5°</text></g>
<text x="116" y="959.5" font-size="13.3" font-weight="bold" text-anchor="middle">Opt. 1</text>
<text x="399.5" y="961" font-size="13.3" font-weight="bold" text-anchor="middle">Opt. 2</text>
<text x="676.3" y="961" font-size="13.3" font-weight="bold" text-anchor="middle">Opt. 3</text>
</g></svg></body></html>
